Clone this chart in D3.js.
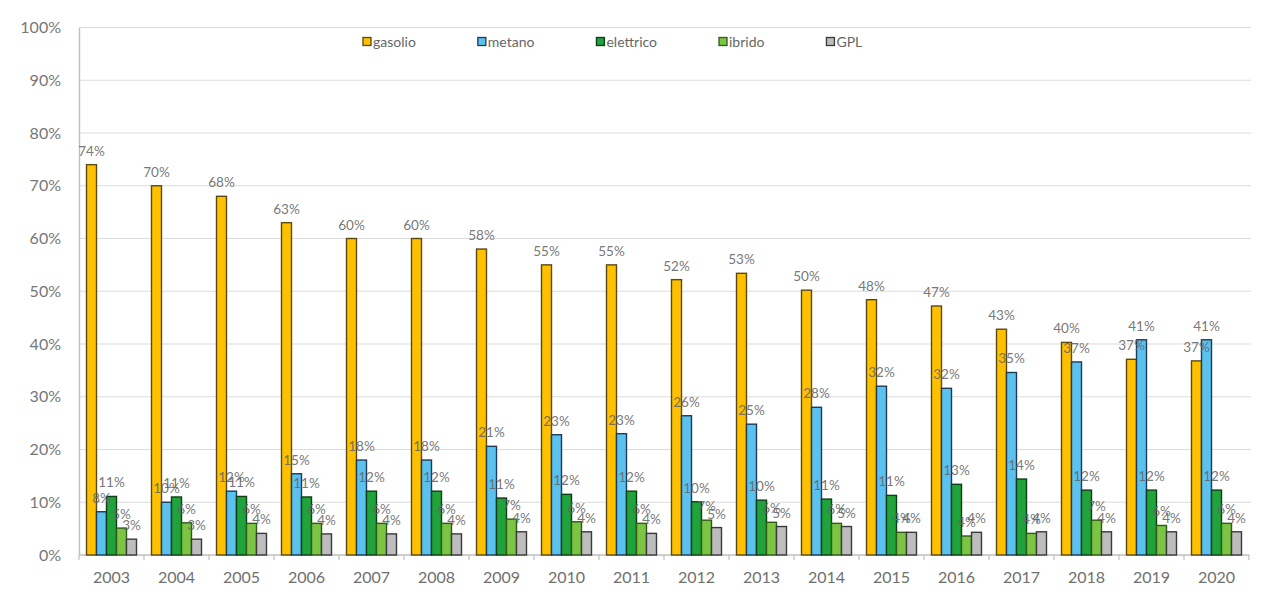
<!DOCTYPE html>
<html>
<head>
<meta charset="utf-8">
<script src="https://cdn.jsdelivr.net/npm/d3@7"></script>
<style>
  html, body { margin: 0; padding: 0; background: #ffffff; }
  svg { display: block; font-family: Lato, "Open Sans", sans-serif; }
</style>
</head>
<body>
<svg id="chart" width="1277" height="597"></svg>
<script>
// Quota percentuale per alimentazione, 2003-2020
const years = ["2003","2004","2005","2006","2007","2008","2009","2010","2011","2012","2013","2014","2015","2016","2017","2018","2019","2020"];
const seriesNames = ["gasolio","metano","elettrico","ibrido","GPL"];

const gasolio   = [74, 70, 68, 63, 60, 60, 58, 55, 55, 52.2, 53.4, 50.2, 48.4, 47.2, 42.8, 40.3, 37.1, 36.8];
const metano    = [8.2, 10, 12.1, 15.4, 18, 18, 20.6, 22.8, 23, 26.4, 24.8, 28, 32, 31.6, 34.6, 36.6, 40.8, 40.8];
const elettrico = [11.1, 11, 11.1, 11, 12.1, 12.1, 10.8, 11.5, 12.1, 10.1, 10.4, 10.6, 11.3, 13.4, 14.4, 12.3, 12.3, 12.3];
const ibrido    = [5.1, 6.1, 6, 6, 6, 6, 6.8, 6.3, 6, 6.6, 6.2, 6, 4.3, 3.6, 4.1, 6.6, 5.6, 6];
const gpl       = [3, 3, 4.1, 4, 4, 4, 4.4, 4.4, 4.1, 5.2, 5.4, 5.4, 4.3, 4.3, 4.4, 4.4, 4.4, 4.4];

const yTicks = [0, 10, 20, 30, 40, 50, 60, 70, 80, 90, 100];

const fills   = ["#FFC000", "#5BC2EE", "#1FA33A", "#7CC443", "#BDBDBD"];
const strokes = ["#5a4a12", "#1f3b5a", "#0f3d18", "#2f5a1a", "#3a3a3a"];

const valuesBySeries = [gasolio, metano, elettrico, ibrido, gpl];

const svg = d3.select("#chart");
const margin = { left: 79, right: 28, top: 27.5, bottom: 42 };
const W = +svg.attr("width"), H = +svg.attr("height");

const x = d3.scaleBand().domain(years).range([margin.left, W - margin.right]).paddingInner(0).paddingOuter(0);
const xs = d3.scaleBand().domain(seriesNames).range([0, x.bandwidth()]).paddingInner(0).paddingOuter(0.75);
const y = d3.scaleLinear().domain([0, 100]).range([H - margin.bottom, margin.top]);

// grid lines
svg.append("g")
  .selectAll("line")
  .data(yTicks.filter(d => d > 0))
  .join("line")
  .attr("x1", margin.left).attr("x2", W - margin.right + 2)
  .attr("y1", d => y(d)).attr("y2", d => y(d))
  .attr("stroke", "#dcdcdc").attr("stroke-width", 1.2);

// y axis
const yAxis = svg.append("g")
  .attr("transform", `translate(${margin.left},0)`)
  .call(d3.axisLeft(y).tickValues(yTicks).tickFormat(d => d + "%").tickSize(0).tickPadding(18));
yAxis.select(".domain").attr("stroke", "#bfbfbf").attr("stroke-width", 1.4);
yAxis.selectAll("text").attr("fill", "#777").attr("font-size", 16).attr("font-family", "Lato, sans-serif");

// x axis
const xAxis = svg.append("g")
  .attr("transform", `translate(0,${y(0)})`)
  .call(d3.axisBottom(x).tickSize(0).tickPadding(17));
xAxis.select(".domain").remove();
xAxis.selectAll("text").attr("fill", "#6f6f6f").attr("font-size", 16).attr("font-family", "Lato, sans-serif");
svg.append("line")
  .attr("x1", margin.left).attr("x2", W - margin.right)
  .attr("y1", y(0)).attr("y2", y(0))
  .attr("stroke", "#bfbfbf").attr("stroke-width", 1.4);
// category boundary ticks
svg.append("g")
  .selectAll("line")
  .data(years.map(d => x(d)).concat([x(years[years.length - 1]) + x.bandwidth()]))
  .join("line")
  .attr("x1", d => d).attr("x2", d => d)
  .attr("y1", y(0)).attr("y2", y(0) + 5)
  .attr("stroke", "#bfbfbf").attr("stroke-width", 1.2);

// bars
const groups = svg.append("g")
  .selectAll("g")
  .data(years)
  .join("g")
  .attr("transform", d => `translate(${x(d)},0)`);

groups.selectAll("rect")
  .data((yr, i) => seriesNames.map((s, k) => ({ s, k, v: valuesBySeries[k][i] })))
  .join("rect")
  .attr("x", d => xs(d.s))
  .attr("y", d => y(d.v))
  .attr("width", xs.bandwidth())
  .attr("height", d => y(0) - y(d.v))
  .attr("fill", d => fills[d.k])
  .attr("stroke", d => strokes[d.k])
  .attr("stroke-width", 1.4);

// value labels
groups.selectAll("text")
  .data((yr, i) => seriesNames.map((s, k) => ({ s, k, v: valuesBySeries[k][i] })))
  .join("text")
  .attr("x", d => xs(d.s) + xs.bandwidth() / 2)
  .attr("y", d => y(d.v) - 9)
  .attr("text-anchor", "middle")
  .attr("font-size", 13.5)
  .attr("fill", "#666")
  .attr("fill-opacity", 0.9)
  .text(d => Math.round(d.v) + "%");

// legend
const legend = svg.append("g").attr("transform", "translate(363,42)");
let lx = 0;
seriesNames.forEach((name, k) => {
  const item = legend.append("g").attr("transform", `translate(${lx},0)`);
  item.append("rect")
    .attr("x", 0).attr("y", -4.5).attr("width", 8).attr("height", 8)
    .attr("fill", fills[k]).attr("stroke", strokes[k]).attr("stroke-width", 1.3);
  const t = item.append("text")
    .attr("x", 10).attr("y", 5)
    .attr("font-size", 14).attr("fill", "#666")
    .text(name);
  lx += 10 + t.node().getComputedTextLength() + 62;
});
</script>
</body>
</html>
